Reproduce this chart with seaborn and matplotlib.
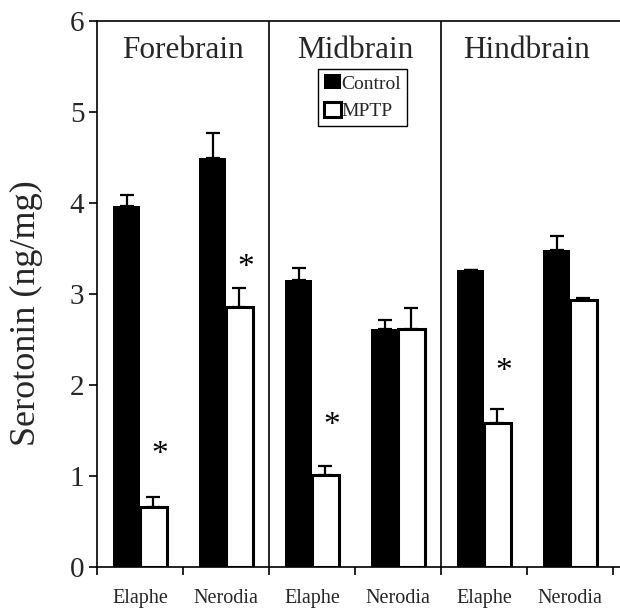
import matplotlib
matplotlib.use("Agg")
import matplotlib.pyplot as plt
from matplotlib.patches import Patch
import seaborn as sns
import pandas as pd

# ---- data ----
regions = ["Forebrain", "Midbrain", "Hindbrain"]
species = ["Elaphe", "Nerodia"]
treatments = ["Control", "MPTP"]
control_vals = [3.97, 4.50, 3.15, 2.61, 3.26, 3.48]
control_err = [0.12, 0.27, 0.14, 0.10, 0.00, 0.16]
mptp_vals = [0.66, 2.86, 1.01, 2.62, 1.58, 2.93]
mptp_err = [0.11, 0.21, 0.10, 0.23, 0.16, 0.03]
significant = [True, True, True, False, True, False]
star_y = [1.29, 3.35, 1.61, None, 2.21, None]
y_ticks = [0, 1, 2, 3, 4, 5, 6]
y_label = "Serotonin (ng/mg)"

sns.set_theme(style="ticks")
plt.rcParams["font.family"] = ["Liberation Serif", "DejaVu Serif"]

positions = [f"{r}|{s}" for r in regions for s in species]
rows = []
for i, p in enumerate(positions):
    rows.append({"pos": p, "treatment": "Control", "value": control_vals[i]})
    rows.append({"pos": p, "treatment": "MPTP", "value": mptp_vals[i]})
df = pd.DataFrame(rows)

fig = plt.figure(figsize=(6.2, 6.08), dpi=100)
W, H = 620, 608
ax = fig.add_axes([97 / W, (H - 567) / H, (W - 97) / W, (567 - 21) / H])

sns.barplot(data=df, x="pos", y="value", hue="treatment", order=positions,
            hue_order=treatments, palette={"Control": "black", "MPTP": "white"},
            edgecolor="black", linewidth=0, errorbar=None, width=0.62,
            gap=0, ax=ax, legend=False, zorder=2)

errs = {"Control": control_err, "MPTP": mptp_err}
mptp_centers = []
for cont, t in zip(ax.containers, treatments):
    xs, ys = [], []
    for patch in cont:
        xs.append(patch.get_x() + patch.get_width() / 2)
        ys.append(patch.get_height())
        if t == "MPTP":
            patch.set_linewidth(2.2)
            patch.set_edgecolor("black")
    if t == "MPTP":
        mptp_centers = xs
    e = errs[t]
    ax.errorbar(xs, ys, yerr=[[0] * len(e), e], fmt="none", ecolor="black",
                elinewidth=1.6, capsize=5, capthick=1.6, zorder=1)

for i, sig in enumerate(significant):
    if sig:
        ax.text(mptp_centers[i] + 0.08, star_y[i] - 0.06, "*", ha="center",
                va="center", fontsize=24, color="black")

ax.set_xlim(-0.5, -0.5 + (W - 97) / 86)
ax.set_ylim(0, 6)
ax.set_yticks(y_ticks)
ax.set_yticklabels([str(v) for v in y_ticks], fontsize=21)
ax.tick_params(axis="y", direction="out", length=6, width=1.2, pad=3, color="black")

ax.set_xticks([k - 0.5 for k in range(len(positions) + 1)])
ax.set_xticklabels([])
ax.set_xticks(range(len(positions)), minor=True)
ax.set_xticklabels([p.split("|")[1] for p in positions], minor=True, fontsize=14.5)
ax.tick_params(axis="x", which="major", direction="out", length=6, width=1.2, color="black")
ax.tick_params(axis="x", which="minor", length=0, pad=16)
ax.set_xlabel("")
ax.set_ylabel(y_label, fontsize=26, va="center")
ax.yaxis.set_label_coords((26 - 97) / 523, (567 - 313) / 546)

for s in ["left", "bottom", "top"]:
    ax.spines[s].set_visible(True)
    ax.spines[s].set_color("black")
    ax.spines[s].set_linewidth(1.2)
ax.spines["right"].set_visible(False)

for xb in [1.5, 3.5]:
    ax.axvline(xb, color="black", lw=1.2, zorder=0)

for k, r in enumerate(regions):
    ax.text(2 * k + 0.5, 5.68, r, ha="center", va="center", fontsize=22.5)

handles = [Patch(facecolor="black", edgecolor="black", linewidth=0),
           Patch(facecolor="white", edgecolor="black", linewidth=2.2)]
leg = ax.legend(handles, treatments, loc="center", bbox_to_anchor=(0.508, 0.86),
                fontsize=14, frameon=True, fancybox=False, edgecolor="black",
                framealpha=1, handlelength=0.85, handleheight=0.8,
                handletextpad=0.05, labelspacing=0.5, borderpad=0.3)
leg.get_frame().set_linewidth(1.0)

fig.savefig("out.png", dpi=100)
